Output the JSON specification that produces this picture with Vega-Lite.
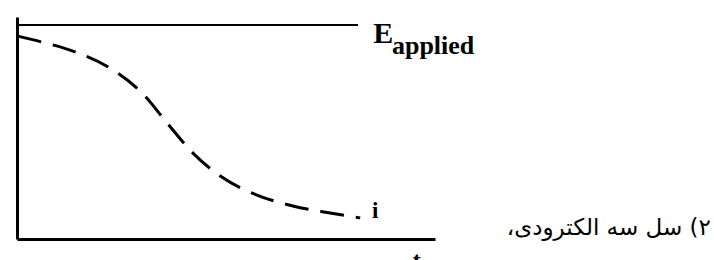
{
  "$schema": "https://vega.github.io/schema/vega-lite/v6.json",
  "autosize": "none",
  "width": 418,
  "height": 222,
  "padding": {"left": 17, "top": 17, "right": 279, "bottom": 21},
  "background": "white",
  "config": {"view": {"stroke": null}},
  "datasets": {
    "current": [
      {"t": 0.2, "i": 91.4},
      {"t": 6.0, "i": 88.7},
      {"t": 14.6, "i": 83.8},
      {"t": 23.0, "i": 76.1},
      {"t": 29.9, "i": 65.8},
      {"t": 35.9, "i": 52.3},
      {"t": 42.1, "i": 38.7},
      {"t": 49.0, "i": 27.9},
      {"t": 57.4, "i": 19.8},
      {"t": 66.0, "i": 14.9},
      {"t": 74.9, "i": 11.7},
      {"t": 82.1, "i": 9.5}
    ],
    "applied": [
      {"t": 0, "E": 96.4},
      {"t": 81.6, "E": 96.4}
    ],
    "bigE": [{"t": 85.2, "v": 88.3, "label": "E"}],
    "sub": [{"t": 89.7, "v": 83.3, "label": "applied"}],
    "iLabel": [{"t": 84.9, "v": 9.5, "label": "i"}],
    "tLabel": [{"t": 94.7, "v": -13.1, "label": "t"}],
    "caption": [{"t": 166.0, "v": 1.8, "label": "\u202B۲) سل سه الکترودی،\u202C"}]
  },
  "layer": [
    {
      "data": {"name": "applied"},
      "mark": {"type": "line", "color": "black", "strokeWidth": 2},
      "encoding": {
        "x": {
          "field": "t", "type": "quantitative",
          "scale": {"domain": [0, 100], "nice": false, "zero": false},
          "axis": {"orient": "bottom", "domainColor": "black", "domainWidth": 3, "ticks": false, "labels": false, "grid": false, "title": null}
        },
        "y": {
          "field": "E", "type": "quantitative",
          "scale": {"domain": [0, 100], "nice": false, "zero": false},
          "axis": {"orient": "left", "domainColor": "black", "domainWidth": 3, "ticks": false, "labels": false, "grid": false, "title": null}
        }
      }
    },
    {
      "data": {"name": "current"},
      "mark": {"type": "line", "color": "black", "strokeWidth": 3, "strokeDash": [24, 12], "interpolate": "monotone", "strokeCap": "butt"},
      "encoding": {
        "x": {"field": "t", "type": "quantitative"},
        "y": {"field": "i", "type": "quantitative"}
      }
    },
    {
      "data": {"name": "bigE"},
      "mark": {"type": "text", "align": "left", "baseline": "alphabetic", "font": "Liberation Serif", "fontWeight": "bold", "fontSize": 30, "color": "black"},
      "encoding": {
        "x": {"field": "t", "type": "quantitative"},
        "y": {"field": "v", "type": "quantitative"},
        "text": {"field": "label"}
      }
    },
    {
      "data": {"name": "sub"},
      "mark": {"type": "text", "align": "left", "baseline": "alphabetic", "font": "Liberation Serif", "fontWeight": "bold", "fontSize": 26, "color": "black"},
      "encoding": {
        "x": {"field": "t", "type": "quantitative"},
        "y": {"field": "v", "type": "quantitative"},
        "text": {"field": "label"}
      }
    },
    {
      "data": {"name": "iLabel"},
      "mark": {"type": "text", "align": "left", "baseline": "alphabetic", "font": "Liberation Serif", "fontWeight": "bold", "fontSize": 23, "color": "black"},
      "encoding": {
        "x": {"field": "t", "type": "quantitative"},
        "y": {"field": "v", "type": "quantitative"},
        "text": {"field": "label"}
      }
    },
    {
      "data": {"name": "tLabel"},
      "mark": {"type": "text", "align": "left", "baseline": "alphabetic", "font": "Liberation Serif", "fontWeight": "bold", "fontSize": 24, "color": "black"},
      "encoding": {
        "x": {"field": "t", "type": "quantitative"},
        "y": {"field": "v", "type": "quantitative"},
        "text": {"field": "label"}
      }
    },
    {
      "data": {"name": "caption"},
      "mark": {"type": "text", "align": "right", "baseline": "alphabetic", "font": "DejaVu Sans", "fontSize": 23, "color": "black"},
      "encoding": {
        "x": {"field": "t", "type": "quantitative"},
        "y": {"field": "v", "type": "quantitative"},
        "text": {"field": "label"}
      }
    }
  ]
}
